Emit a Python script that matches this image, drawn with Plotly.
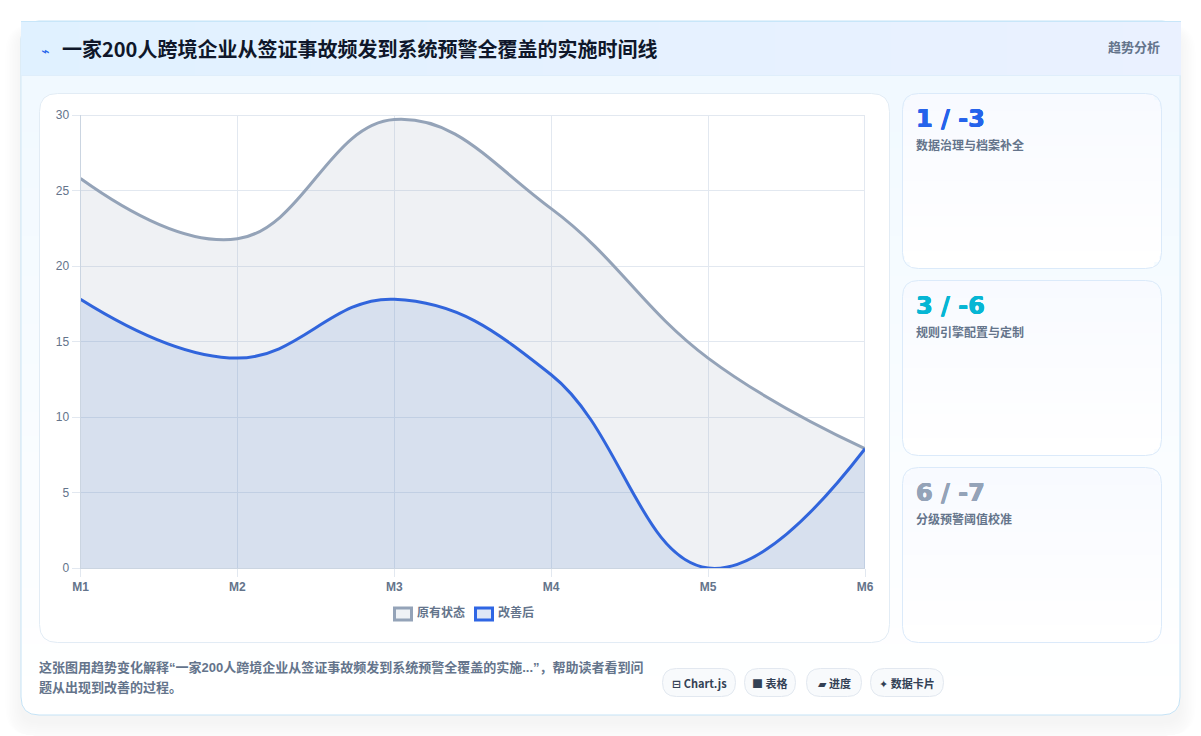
import plotly.graph_objects as go

W, H = 1201, 736

months = ["M1", "M2", "M3", "M4", "M5", "M6"]
before = [25.8, 21.8, 29.7, 23.8, 13.9, 7.9]
after = [17.8, 13.9, 17.8, 12.8, 0, 7.9]
y_ticks = [0, 5, 10, 15, 20, 25, 30]
series_names = ["原有状态", "改善后"]

title_text = "一家200人跨境企业从签证事故频发到系统预警全覆盖的实施时间线"
badge_text = "趋势分析"
card_values = ["1 / -3", "3 / -6", "6 / -7"]
card_labels = ["数据治理与档案补全", "规则引擎配置与定制", "分级预警阈值校准"]
card_colors = ["#2563eb", "#06b6d4", "#94a3b8"]
note_lines = [
    "这张图用趋势变化解释“一家200人跨境企业从签证事故频发到系统预警全覆盖的实施...”，帮助读者看到问",
    "题从出现到改善的过程。",
]
pill_texts = ["⊟ Chart.js", "■ 表格", "▰ 进度", "✦ 数据卡片"]

SANS = "'Liberation Sans','Noto Sans CJK SC','DejaVu Sans',sans-serif"
NOTO = "'Noto Sans CJK SC','DejaVu Sans',sans-serif"
ARIAL = "'Liberation Sans','Noto Sans CJK SC',sans-serif"
NUMBER_FONT = "'DejaVu Sans',sans-serif"

shapes = []
annotations = []


def fx(x):
    return x / W


def fy(y):
    return 1 - y / H


def rounded_path(x0, y0, x1, y1, r):
    return (
        f"M{fx(x0 + r)},{fy(y0)} L{fx(x1 - r)},{fy(y0)} Q{fx(x1)},{fy(y0)} {fx(x1)},{fy(y0 + r)} "
        f"L{fx(x1)},{fy(y1 - r)} Q{fx(x1)},{fy(y1)} {fx(x1 - r)},{fy(y1)} "
        f"L{fx(x0 + r)},{fy(y1)} Q{fx(x0)},{fy(y1)} {fx(x0)},{fy(y1 - r)} "
        f"L{fx(x0)},{fy(y0 + r)} Q{fx(x0)},{fy(y0)} {fx(x0 + r)},{fy(y0)} Z"
    )


def box(x0, y0, x1, y1, r=0, fill="rgba(0,0,0,0)", line=None, width=1):
    shape = dict(
        xref="paper", yref="paper", layer="below", fillcolor=fill,
        line=dict(color=line or "rgba(0,0,0,0)", width=width if line else 0),
    )
    if r:
        shape.update(type="path", path=rounded_path(x0, y0, x1, y1, r))
    else:
        shape.update(type="rect", x0=fx(x0), x1=fx(x1), y0=fy(y0), y1=fy(y1))
    shapes.append(shape)


def mix(c0, c1, t):
    vals = [round(a + (b - a) * t) for a, b in zip(c0, c1)]
    return f"rgb({vals[0]},{vals[1]},{vals[2]})"


def hgrad(x0, y0, x1, y1, c0, c1, steps):
    """Left-to-right gradient made of thin rectangles."""
    for i in range(steps):
        a = x0 + (x1 - x0) * i / steps
        b = x0 + (x1 - x0) * (i + 1) / steps
        box(round(a), y0, round(b), y1, fill=mix(c0, c1, i / max(steps - 1, 1)))


def vgrad(x0, y0, x1, y1, c0, c1, steps, r=0):
    """Top-to-bottom gradient, sliced so the corners stay rounded."""
    for i in range(steps):
        a = round(y0 + (y1 - y0) * i / steps)
        b = round(y0 + (y1 - y0) * (i + 1) / steps)
        inset = 0
        if r:
            mid = (a + b) / 2
            d = max(y0 + r - mid, mid - (y1 - r), 0)
            inset = r - (r * r - min(d, r) ** 2) ** 0.5
        box(x0 + inset, a, x1 - inset, b, fill=mix(c0, c1, i / max(steps - 1, 1)))


def label(x, y, text, size, color, family=SANS, weight=400, anchor="left", shadow=None):
    font = dict(size=size, color=color, family=family, weight=weight)
    if shadow:
        font["shadow"] = shadow
    annotations.append(dict(
        xref="paper", yref="paper", x=fx(x), y=fy(y), text=text, showarrow=False,
        xanchor=anchor, yanchor="middle", align=anchor, borderpad=0, borderwidth=0,
        font=font,
    ))


# Soft drop shadow behind the main card, kept inside the page
for spread in range(20, 0, -2):
    box(max(21 - spread * 0.8, 0), 30 - spread * 0.3, min(1180 + spread * 0.8, W),
        min(722 + spread, H), r=18 + spread * 0.5, fill="rgba(15,23,42,0.0055)")

# Main card with its vertical wash
box(21, 21, 1180, 715, r=18, fill="#ffffff", line="#c5e3f6", width=1)
vgrad(22, 76, 1179, 700, (241, 249, 255), (255, 255, 255), 78)

# Header band
hgrad(21, 21, 1181, 76, (224, 241, 255), (234, 241, 255), 40)
box(21, 21, 1181, 22, fill="#c8e6f9")
box(21, 75, 1181, 76, fill="#dfeefb")

# Chart panel and the three side cards
box(39.5, 93.5, 889.5, 642.5, r=18, fill="#ffffff", line="#e2ecf5", width=1)
for top in (93, 280, 467):
    vgrad(903, top + 1, 1161, top + 175, (248, 250, 255), (255, 255, 255), 30, r=16)
    box(902.5, top + 0.5, 1161.5, top + 175.5, r=16, line="#dbeafa", width=1)

# Closing grid lines on the top and right edges of the plot area
box(80, 115, 865, 116, fill="#e2e8f0")
box(864, 115, 865, 568, fill="#e2e8f0")

# Header texts
label(41, 51, "⌁", 14, "#2563eb", weight=700)
label(62, 48.5, title_text, 20, "#0f172a", family=NOTO, weight=700)
label(1160, 48, badge_text, 13, "#64748b", weight=700, anchor="right")

# Side card texts; the numbers get a hairline shadow for extra weight
for top, value, text, color in zip((93, 280, 467), card_values, card_labels, card_colors):
    thicken = f"0.4px 0 {color},-0.4px 0 {color},0 0.3px {color}"
    label(916, top + 26, value, 24, color, family=NUMBER_FONT, weight=900, shadow=thicken)
    label(916, top + 52, text, 12, "#64748b", weight=600)

# Hand-drawn legend row under the plot area
for x0, name, stroke, tint in zip(
    (393, 474), series_names, ("#94a3b8", "#2f66e4"), ("#eff2f6", "#dfe7f6")
):
    box(x0 + 1.5, 608, x0 + 18.5, 620, fill=tint, line=stroke, width=3)
    label(x0 + 24, 612.5, name, 12, "#64748b", weight=600)

# Note under the chart
label(39, 667, note_lines[0], 13, "#64748b", weight=700)
label(39, 687, note_lines[1], 13, "#64748b", weight=700)

# Pills
for (x0, x1), text in zip(((662, 736), (744, 796), (806, 862), (870, 944)), pill_texts):
    box(x0 + 0.5, 668.5, x1 - 0.5, 696.5, r=14, fill="#f8fafc", line="#e2e8f0", width=1)
    label((x0 + x1) / 2, 683, text, 11, "#334155", family=NOTO, weight=700, anchor="center")

fig = go.Figure()
fig.add_trace(go.Scatter(
    x=months, y=before, name=series_names[0], mode="lines",
    line=dict(color="#94a3b8", width=3, shape="spline", smoothing=1.2),
    fill="tozeroy", fillcolor="rgba(148,163,184,0.15)", cliponaxis=False,
))
fig.add_trace(go.Scatter(
    x=months, y=after, name=series_names[1], mode="lines",
    line=dict(color="#3165dc", width=3, shape="spline", smoothing=1.2),
    fill="tozeroy", fillcolor="rgba(40,108,196,0.12)", cliponaxis=True,
))

fig.update_layout(
    width=W, height=H, autosize=False, margin=dict(l=0, r=0, t=0, b=0, pad=0, autoexpand=False),
    paper_bgcolor="#ffffff", plot_bgcolor="rgba(0,0,0,0)", showlegend=False,
    shapes=shapes, annotations=annotations,
    xaxis=dict(
        domain=[fx(80.5), fx(865)], range=[0, 5], type="category", categoryorder="array",
        categoryarray=months, showgrid=True, gridcolor="#e2e8f0", gridwidth=1, zeroline=False,
        showline=True, linecolor="#cbd5e1", ticks="outside", ticklen=8, tickcolor="#e2e8f0",
        automargin=False,
        tickfont=dict(size=12, color="#64748b", family=ARIAL, weight=700), anchor="y",
    ),
    yaxis=dict(
        domain=[fy(568), fy(115)], range=[0, 30], tickvals=y_ticks, showgrid=True,
        gridcolor="#e2e8f0", gridwidth=1, zeroline=False, showline=True, linecolor="#cbd5e1",
        ticks="outside", ticklen=8, tickcolor="#e2e8f0", automargin=False,
        tickfont=dict(size=12, color="#64748b", family=ARIAL), anchor="x",
    ),
)

# The figure fills the window exactly, so the page itself needs no margin.
fig.write_html("out.html", post_script="document.body.style.margin='0';")
